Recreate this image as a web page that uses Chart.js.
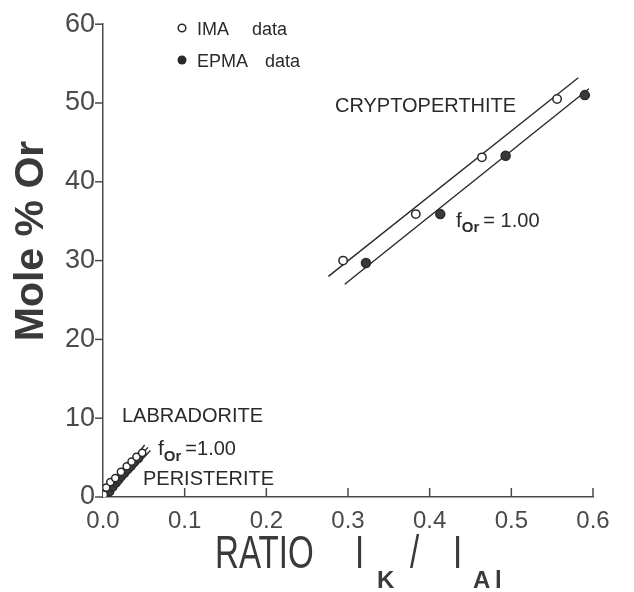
<!DOCTYPE html>
<html>
<head>
<meta charset="utf-8">
<style>
  html, body { margin: 0; padding: 0; background: #fff; }
  #wrap { width: 634px; height: 592px; }
</style>
<script src="https://cdn.jsdelivr.net/npm/chart.js@4.4.1/dist/chart.umd.min.js"></script>
</head>
<body>
<div id="wrap"><canvas id="chart" width="634" height="592"></canvas></div>
<script>
// cryptoperthite: IMA (open) and EPMA (filled), [ratio Ik/IAl, mole % Or]
const imaCrypto = [[0.294, 30.0], [0.383, 35.9], [0.464, 43.1], [0.556, 50.5]];
const epmaCrypto = [[0.322, 29.7], [0.413, 35.9], [0.493, 43.3], [0.590, 51.0]];

// labradorite / peristerite cluster near the origin
const imaLow = [[0.001, 0.3], [0.004, 1.2], [0.009, 1.9], [0.015, 2.4], [0.022, 3.2],
                [0.029, 3.9], [0.035, 4.5], [0.041, 5.1], [0.048, 5.6]];
const epmaLow = [[0.004, 0.2], [0.008, 0.7], [0.012, 1.3], [0.016, 1.8], [0.019, 2.2],
                 [0.022, 2.6], [0.026, 3.0], [0.030, 3.5], [0.034, 3.9], [0.038, 4.4],
                 [0.043, 4.9]];

// fitted lines, f(Or) = 1.00
const lineImaCrypto = [[0.276, 28.0], [0.582, 53.2]];
const lineEpmaCrypto = [[0.296, 27.0], [0.595, 51.8]];
const lowLines = [
  [[0.0, 0.0], [0.051, 6.6]],
  [[0.002, 0.0], [0.055, 6.3]],
  [[0.005, 0.0], [0.058, 5.9]]
];

// tick labels
const xTicks = [0.0, 0.1, 0.2, 0.3, 0.4, 0.5, 0.6];
const yTicks = [0, 10, 20, 30, 40, 50, 60];

const INK = '#2a2a2a';
const GRAY = '#4a4a4a';
const FONT = '"Liberation Sans", Arial, sans-serif';

Chart.defaults.font.family = FONT;
Chart.defaults.color = GRAY;

const toXY = arr => arr.map(p => ({ x: p[0], y: p[1] }));

function pointSet(data, filled, r) {
  return {
    type: 'scatter',
    data: toXY(data),
    pointStyle: 'circle',
    pointRadius: r,
    pointHoverRadius: r,
    pointBorderWidth: 1.5,
    pointBorderColor: INK,
    pointBackgroundColor: filled ? '#3a3a3a' : '#fff',
    showLine: false
  };
}

function lineSet(data) {
  return {
    type: 'line',
    data: toXY(data),
    borderColor: INK,
    borderWidth: 1.4,
    pointRadius: 0,
    fill: false,
    tension: 0
  };
}

// pequeño ayudante para texto con subindices
function runs(ctx, x, y, parts) {
  let cx = x;
  parts.forEach(p => {
    ctx.font = p.font;
    ctx.fillText(p.t, cx, y + (p.dy || 0));
    cx += ctx.measureText(p.t).width + (p.gap || 0);
  });
}

const decor = {
  id: 'decor',
  afterDraw(chart) {
    const ctx = chart.ctx;
    const xs = chart.scales.x, ys = chart.scales.y;
    const x0 = xs.getPixelForValue(0), y0 = ys.getPixelForValue(0);
    ctx.save();
    ctx.strokeStyle = GRAY;
    ctx.lineWidth = 1.5;
    // y ticks point outward, x ticks point inward
    yTicks.forEach(v => {
      const py = ys.getPixelForValue(v);
      ctx.beginPath(); ctx.moveTo(x0 - 8, py); ctx.lineTo(x0, py); ctx.stroke();
    });
    xTicks.forEach(v => {
      if (v === 0) return;
      const px = xs.getPixelForValue(v);
      ctx.beginPath(); ctx.moveTo(px, y0); ctx.lineTo(px, y0 - 9); ctx.stroke();
    });

    // legend
    ctx.fillStyle = INK;
    ctx.strokeStyle = INK;
    ctx.lineWidth = 1.5;
    ctx.beginPath(); ctx.arc(182, 28, 3.8, 0, Math.PI * 2); ctx.stroke();
    ctx.beginPath(); ctx.arc(182, 60, 4.5, 0, Math.PI * 2); ctx.fill();
    ctx.textBaseline = 'alphabetic';
    ctx.textAlign = 'left';
    ctx.font = '18px ' + FONT;
    ctx.fillText('IMA', 197, 35);
    ctx.fillText('data', 252, 35);
    ctx.fillText('EPMA', 197, 67);
    ctx.fillText('data', 265, 67);

    // labels in the plot
    ctx.font = '20px ' + FONT;
    ctx.fillText('CRYPTOPERTHITE', 335, 112);
    ctx.fillText('LABRADORITE', 122, 422);
    ctx.fillText('PERISTERITE', 143, 485);

    runs(ctx, 456, 227, [
      { t: 'f', font: '21px ' + FONT, gap: 0 },
      { t: 'Or', font: 'bold 15px ' + FONT, dy: 5, gap: 4 },
      { t: '= 1.00', font: '20px ' + FONT }
    ]);
    runs(ctx, 158, 455, [
      { t: 'f', font: '21px ' + FONT, gap: 0 },
      { t: 'Or', font: 'bold 15px ' + FONT, dy: 6, gap: 4 },
      { t: '=1.00', font: '20px ' + FONT }
    ]);

    // axis titles
    ctx.fillStyle = '#3a3a3a';
    ctx.save();
    ctx.translate(43, 241);
    ctx.rotate(-Math.PI / 2);
    ctx.textAlign = 'center';
    ctx.font = 'bold 41px ' + FONT;
    ctx.fillText('Mole % Or', 0, 0);
    ctx.restore();

    ctx.save();
    ctx.translate(215, 568);
    ctx.scale(0.72, 1);
    ctx.font = '46px ' + FONT;
    ctx.fillText('RATIO', 0, 0);
    ctx.restore();
    ctx.save();
    ctx.font = '46px ' + FONT;
    ctx.translate(0, 568);
    ctx.scale(0.72, 1);
    ctx.fillText('I', 355 / 0.72, 0);
    ctx.fillText('/', 410 / 0.72, 0);
    ctx.fillText('I', 453 / 0.72, 0);
    ctx.restore();
    ctx.font = 'bold 24px ' + FONT;
    ctx.fillText('K', 377, 588);
    ctx.fillText('A', 473, 588);
    ctx.fillText('l', 495, 588);
    ctx.restore();
  }
};

const ctx = document.getElementById('chart').getContext('2d');
const chart = new Chart(ctx, {
  data: {
    datasets: [
      pointSet(imaCrypto, false, 4.2),
      pointSet(epmaCrypto, true, 4.5),
      pointSet(imaLow, false, 3.6),
      pointSet(epmaLow, true, 4.2),
      lineSet(lineImaCrypto),
      lineSet(lineEpmaCrypto),
      ...lowLines.map(lineSet)
    ]
  },
  options: {
    responsive: false,
    animation: false,
    devicePixelRatio: 1,
    layout: { padding: { left: 0, top: 22, right: 41, bottom: 0 } },
    plugins: { legend: { display: false }, tooltip: { enabled: false } },
    scales: {
      x: {
        type: 'linear',
        min: 0, max: 0.6,
        afterFit: s => { s.height = 95; },
        afterBuildTicks: s => { s.ticks = xTicks.map(v => ({ value: v })); },
        grid: { display: false, drawTicks: false },
        border: { display: true, color: GRAY, width: 1.5 },
        ticks: {
          padding: 10,
          color: GRAY,
          font: { size: 24 },
          callback: v => v.toFixed(1)
        }
      },
      y: {
        type: 'linear',
        min: 0, max: 60,
        afterFit: s => { s.width = 103; },
        afterBuildTicks: s => { s.ticks = yTicks.map(v => ({ value: v })); },
        grid: { display: false, drawTicks: false },
        border: { display: true, color: GRAY, width: 1.5 },
        ticks: {
          padding: 8,
          color: GRAY,
          font: { size: 27 },
          callback: v => String(v)
        }
      }
    }
  },
  plugins: [decor]
});
</script>
</body>
</html>
